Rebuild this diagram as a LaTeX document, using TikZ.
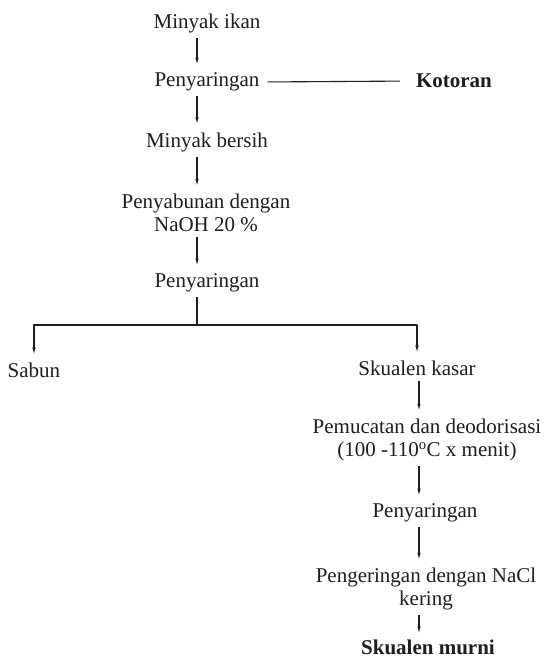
\documentclass[tikz,border=0pt]{standalone}
\usepackage{fontspec}
\setmainfont{Liberation Serif}
\usetikzlibrary{arrows.meta,calc}
\definecolor{ink}{HTML}{1E1E1E}

\begin{document}
\begin{tikzpicture}[x=1pt,y=-1pt, line join=round,
  every node/.style={inner sep=0pt, align=center, text=ink, font=\fontsize{21}{23}\selectfont},
  tebal/.style={font=\fontsize{21}{23}\selectfont\bfseries},
  ln/.style={draw=ink, line width=1.1pt},
  arr/.style={ln, -{Latex[length=7pt,width=3.5pt]}, shorten <=5pt, shorten >=8pt}]
\fill[white] (0,0) rectangle (544,659);
\useasboundingbox (0,0) rectangle (544,659);
\coordinate (colA) at (197,0);
\coordinate (colB) at (419,0);
\coordinate (split) at (197,325);
% main line
\node (ikan) at (207,23) {Minyak ikan};
\node (saring1) at (207,82) {Penyaringan};
\node[tebal] (kotoran) at (454,81) {Kotoran};
\node (bersih) at (207,142) {Minyak bersih};
\node (penyabunan) at (206,213) {Penyabunan dengan\\NaOH 20 \%};
\node (saring2) at (207,283) {Penyaringan};
\node (sabun) at (34,370) {Sabun};
\node (kasar) at (417,368) {Skualen kasar};
% skualen branch
\node (pucat) at (427,440) {Pemucatan dan deodorisasi\\(100 -110\textsuperscript{o}C x menit)};
\node (saring3) at (425,513) {Penyaringan};
\node (kering) at (426,589) {Pengeringan dengan NaCl\\kering};
\node[tebal] (murni) at (428,647) {Skualen murni};
\draw[arr] (ikan.south -| colA) -- (saring1.north -| colA);
\draw[ln, shorten <=8pt, shorten >=16pt] (saring1.east) -- (kotoran.west);
\draw[arr] (saring1.south -| colA) -- (bersih.north -| colA);
\draw[arr] (bersih.south -| colA) -- (penyabunan.north -| colA);
\draw[arr] (penyabunan.south -| colA) -- (saring2.north -| colA);
\draw[ln, shorten <=5pt] (saring2.south -| colA) -- (split);
\draw[arr, shorten <=0pt] (split) -| (sabun);
\draw[arr, shorten <=0pt] (split) -| (kasar);
\draw[arr] (kasar.south -| colB) -- (pucat.north -| colB);
\draw[arr] (pucat.south -| colB) -- (saring3.north -| colB);
\draw[arr] (saring3.south -| colB) -- (kering.north -| colB);
\draw[arr, shorten >=6pt] (kering.south -| colB) -- (murni.north -| colB);
\end{tikzpicture}
\end{document}
